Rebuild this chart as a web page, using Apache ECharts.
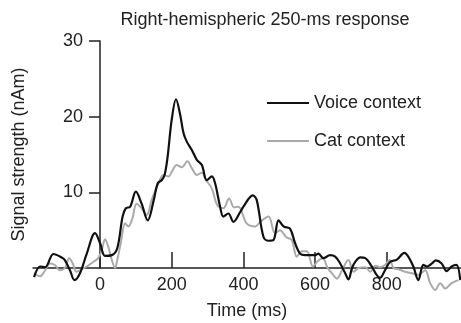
<!DOCTYPE html>
<html>
<head>
<meta charset="utf-8">
<script src="https://cdn.jsdelivr.net/npm/echarts@6/dist/echarts.min.js"></script>
<style>html,body{margin:0;padding:0;background:#fff}#c{width:461px;height:323px}</style>
</head>
<body>
<div id="c"></div>
<script>
var titleText = 'Right-hemispheric 250-ms response';
var xTicks = [0, 200, 400, 600, 800];
var yTicks = [10, 20, 30];
var voiceName = 'Voice context';
var catName = 'Cat context';
var voiceX = [-184,-167,-153,-130,-107,-98,-84,-71,-56,-37,-14,0,14,33,48,63,72,84,100,116,133,150,161,172,180,188,200,212,223,233,242,256,270,284,298,312,321,335,344,358,372,391,400,426,437,456,470,484,498,512,530,544,558,572,600,609,623,642,656,670,684,693,703,712,726,740,758,770,781,795,809,828,849,860,874,888,902,912,926,937,953,967,981,994,1005];
var voiceY = [-1.2,0.2,0.1,1.85,1.4,1.05,-0.3,-1.6,-0.7,1.9,4.6,3.3,1.6,1.7,2.6,6.8,7.9,8.1,10.1,8.5,6.3,9.0,11.2,11.6,12.3,14.5,19.6,22.3,20.4,17.8,16.7,15.6,14.3,13.6,11.6,12.1,11.2,8.1,6.8,7.2,6.1,7.4,8.1,9.6,9.0,4.1,3.6,3.7,6.3,5.5,5.2,3.3,1.9,1.7,1.7,1.9,1.3,1.7,1.5,0.6,-0.7,-1.5,0.0,0.8,1.4,1.3,0.2,-0.8,-1.3,-0.3,0.8,1.1,2.0,1.5,0.2,-1.6,0.4,0.2,0.6,1.0,0.6,-0.4,0.2,0.4,-1.6];
var catX = [-184,-167,-153,-140,-126,-112,-98,-86,-76,-66,-56,-37,-19,-5,5,14,23,33,42,48,58,70,79,90,102,116,130,144,163,177,191,200,214,228,244,256,270,284,296,312,327,344,360,374,386,409,433,447,470,488,502,519,535,549,563,577,594,607,621,635,647,661,675,693,707,721,740,754,768,781,795,808,819,835,851,870,888,907,921,935,949,963,981,1000];
var catY = [-0.7,-1.1,-0.3,0.6,0.4,-0.3,0.0,1.3,0.6,-0.5,-0.3,0.2,0.8,1.3,2.4,3.8,2.8,1.05,0.0,1.05,3.3,5.9,5.5,6.5,8.5,7.9,7.0,9.0,11.2,12.3,12.1,12.7,13.6,13.3,14.1,13.2,12.3,12.6,11.6,10.5,8.3,7.9,9.2,8.0,8.1,5.9,5.5,6.1,6.8,4.6,5.0,4.1,3.7,1.5,2.2,2.2,0.2,0.9,1.3,0.0,-0.7,-1.4,-0.3,1.05,-0.5,0.0,0.1,-0.5,0.3,0.1,0.4,1.05,0.0,-0.2,-0.5,-0.7,-0.9,-0.3,-2.0,-2.9,-2.0,-2.7,-2.0,-1.6];

function pairs(xs, ys) { return xs.map(function (x, i) { return [x, ys[i]]; }); }

var ink = '#222';
var font = 'Liberation Sans, Arial, Helvetica, sans-serif';
var chart = echarts.init(document.getElementById('c'), null, {renderer: 'canvas'});
chart.setOption({
  animation: false,
  backgroundColor: '#fff',
  textStyle: {fontFamily: font, color: ink},
  title: {
    text: titleText, left: 260, top: 6, textAlign: 'center',
    textStyle: {fontFamily: font, fontSize: 18, fontWeight: 'normal', color: ink}
  },
  legend: {
    orient: 'vertical', left: 262, top: 88, itemWidth: 42, itemHeight: 2, itemGap: 18,
    icon: 'rect',
    textStyle: {fontFamily: font, fontSize: 18, color: ink, lineHeight: 20, padding: [0,0,0,0]},
    data: [voiceName, catName]
  },
  grid: {left: 33, right: 0, top: 41, bottom: 55, containLabel: false, outerBoundsMode: 'none'},
  xAxis: {
    type: 'value', min: -187, max: 1007,
    name: 'Time (ms)', nameLocation: 'middle', nameGap: 34,
    nameTextStyle: {fontFamily: font, fontSize: 18, color: ink},
    axisLine: {onZero: false, lineStyle: {color: ink, width: 1.5}},
    axisTick: {show: true, inside: true, length: 16, customValues: xTicks, lineStyle: {color: ink, width: 1.5}},
    axisLabel: {customValues: xTicks, fontFamily: font, fontSize: 18, color: ink, margin: 8},
    splitLine: {show: false}
  },
  yAxis: {
    type: 'value', min: 0, max: 30, position: 'left', offset: -67,
    name: 'Signal strength (nAm)', nameLocation: 'middle', nameGap: 72,
    nameTextStyle: {fontFamily: font, fontSize: 18, color: ink},
    axisLine: {show: true, onZero: false, lineStyle: {color: ink, width: 1.5}},
    axisTick: {show: true, inside: false, length: 11, customValues: yTicks, lineStyle: {color: ink, width: 1.5}},
    axisLabel: {customValues: yTicks, fontFamily: font, fontSize: 18, color: ink, margin: 17},
    splitLine: {show: false}
  },
  series: [
    {name: voiceName, type: 'line', data: pairs(voiceX, voiceY), smooth: 0.35, symbol: 'none', clip: false, z: 4,
     itemStyle: {color: '#111'}, lineStyle: {color: '#111', width: 2.2}},
    {name: catName, type: 'line', data: pairs(catX, catY), smooth: 0.35, symbol: 'none', clip: false, z: 3,
     itemStyle: {color: '#aaaaaa'}, lineStyle: {color: '#aaaaaa', width: 2}}
  ]
});
</script>
</body>
</html>
